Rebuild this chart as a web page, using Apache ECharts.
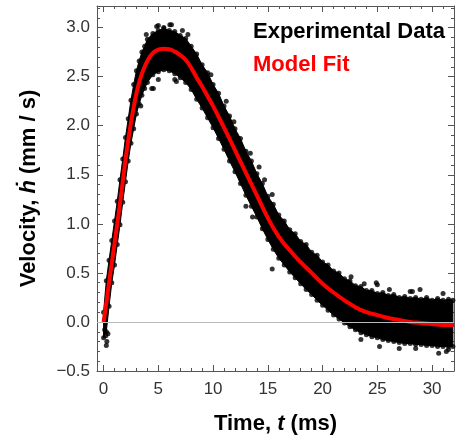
<!DOCTYPE html>
<html>
<head>
<meta charset="utf-8">
<script src="https://cdn.jsdelivr.net/npm/echarts@6/dist/echarts.min.js"></script>
<style>
  html, body { margin: 0; padding: 0; background: #fff; }
  #chart { width: 458px; height: 440px; }
</style>
</head>
<body>
<div id="chart"></div>
<script>
// model fit
const fitTime = [0, 0.25, 0.5, 0.75, 1, 1.25, 1.5, 1.75, 2, 2.25, 2.5, 2.75, 3, 3.25, 3.5, 3.75, 4, 4.5, 5, 5.5, 6, 6.5, 7, 7.5, 8, 8.5, 9, 9.5, 10, 11, 12, 13, 14, 15, 16, 17, 18, 19, 20, 21, 22, 23, 24, 25, 26, 27, 28, 29, 30, 31, 32];
const fitVel = [0, 0.19, 0.40, 0.60, 0.80, 1.00, 1.21, 1.43, 1.65, 1.85, 2.03, 2.19, 2.33, 2.44, 2.53, 2.60, 2.66, 2.74, 2.775, 2.785, 2.78, 2.755, 2.72, 2.67, 2.59, 2.49, 2.40, 2.30, 2.20, 1.98, 1.75, 1.52, 1.29, 1.06, 0.87, 0.73, 0.61, 0.50, 0.39, 0.30, 0.22, 0.15, 0.10, 0.07, 0.04, 0.02, 0.00, -0.01, -0.02, -0.03, -0.03];

// experimental data: dense band, upper and lower edge
const bandTime = [0, 0.25, 0.5, 0.75, 1, 1.25, 1.5, 1.75, 2, 2.25, 2.5, 2.75, 3, 3.25, 3.5, 3.75, 4, 4.5, 5, 5.5, 6, 6.5, 7, 7.5, 8, 8.5, 9, 9.5, 10, 10.5, 11, 11.5, 12, 12.5, 13, 13.5, 14, 14.5, 15, 15.5, 16, 16.5, 17, 17.5, 18, 18.5, 19, 19.5, 20, 20.5, 21, 21.5, 22, 22.5, 23, 23.5, 24, 24.5, 25, 25.5, 26, 26.5, 27, 27.5, 28, 28.5, 29, 29.5, 30, 30.5, 31, 31.5, 31.9];
const bandUpper = [0.10, 0.42, 0.63, 0.83, 1.03, 1.23, 1.45, 1.66, 1.88, 2.07, 2.26, 2.42, 2.56, 2.66, 2.75, 2.81, 2.88, 2.94, 2.97, 2.99, 2.97, 2.96, 2.92, 2.89, 2.81, 2.73, 2.62, 2.54, 2.42, 2.33, 2.20, 2.10, 1.97, 1.87, 1.74, 1.64, 1.51, 1.41, 1.28, 1.20, 1.09, 1.03, 0.94, 0.90, 0.82, 0.79, 0.71, 0.68, 0.61, 0.58, 0.52, 0.50, 0.44, 0.42, 0.37, 0.36, 0.32, 0.32, 0.29, 0.30, 0.27, 0.28, 0.25, 0.26, 0.24, 0.25, 0.23, 0.25, 0.22, 0.24, 0.22, 0.23, 0.22];
const bandLower = [-0.16, -0.10, 0.16, 0.40, 0.58, 0.79, 0.99, 1.22, 1.43, 1.64, 1.82, 1.97, 2.12, 2.22, 2.31, 2.38, 2.44, 2.52, 2.55, 2.57, 2.56, 2.53, 2.49, 2.44, 2.37, 2.27, 2.18, 2.08, 1.98, 1.87, 1.76, 1.64, 1.53, 1.41, 1.29, 1.18, 1.07, 0.95, 0.84, 0.74, 0.65, 0.58, 0.51, 0.45, 0.39, 0.33, 0.28, 0.22, 0.17, 0.12, 0.07, 0.03, -0.01, -0.05, -0.08, -0.11, -0.13, -0.15, -0.16, -0.18, -0.19, -0.20, -0.21, -0.22, -0.22, -0.23, -0.23, -0.24, -0.24, -0.25, -0.25, -0.25, -0.25];

// stray points outside the band
const strayTime = [0.1, 0.2, 0.3, 0.25, 0.4, 3.9, 4.54, 4.85, 5.0, 5.5, 6.05, 6.2, 7.2, 7.7, 3.4, 4.4, 4.55, 5.0, 6.5, 6.65, 9.8, 11.2, 11.9, 13.4, 14.2, 14.7, 15.4, 13.0, 13.6, 15.4, 22.6, 23.8, 25.0, 24.9, 26.1, 28.0, 28.2, 28.9, 31.0, 23.5, 25.2, 27.0, 28.5, 30.6, 31.3, 31.5];
const strayVel = [-0.08, -0.14, -0.20, -0.24, -0.12, 2.93, 2.91, 3.01, 3.02, 3.00, 3.03, 3.03, 2.97, 2.93, 2.20, 2.38, 2.38, 2.47, 2.47, 2.45, 2.52, 2.25, 2.04, 1.72, 1.58, 1.45, 1.30, 1.18, 1.07, 0.54, 0.46, 0.39, 0.38, 0.40, 0.33, 0.31, 0.31, 0.33, 0.29, -0.18, -0.25, -0.27, -0.27, -0.32, -0.30, -0.28];

// ticks
const xMajor = [0, 5, 10, 15, 20, 25, 30];
const xMinor = [0, 1, 2, 3, 4, 6, 7, 8, 9, 11, 12, 13, 14, 16, 17, 18, 19, 21, 22, 23, 24, 26, 27, 28, 29, 31];
const yMajor = [-0.5, 0, 0.5, 1, 1.5, 2, 2.5, 3];
const yMinor = [-0.4, -0.3, -0.2, -0.1, 0.1, 0.2, 0.3, 0.4, 0.6, 0.7, 0.8, 0.9, 1.1, 1.2, 1.3, 1.4, 1.6, 1.7, 1.8, 1.9, 2.1, 2.2, 2.3, 2.4, 2.6, 2.7, 2.8, 2.9, 3.1, 3.2];

const FONT = 'Liberation Sans, Arial, Helvetica, sans-serif';
const FRAME = '#555';

function pairs(xs, ys) {
    return xs.map((x, i) => [x, ys[i]]);
}

function renderBand(params, api) {
    if (params.dataIndex !== 0) return null;
    const points = [];
    for (let i = 0; i < bandTime.length; i++) {
        points.push(api.coord([bandTime[i], bandUpper[i]]));
    }
    for (let i = bandTime.length - 1; i >= 0; i--) {
        points.push(api.coord([bandTime[i], bandLower[i]]));
    }
    return {
        type: 'polygon',
        shape: { points: points },
        style: { fill: '#000', stroke: '#000', lineWidth: 1 }
    };
}

function xAxisOf(position, values, len, withLabels) {
    return {
        type: 'value',
        position: position,
        min: -0.6,
        max: 32,
        axisLine: { show: len > 4, onZero: false, lineStyle: { color: FRAME, width: 1 } },
        axisTick: { show: true, inside: true, length: len, customValues: values, lineStyle: { color: FRAME } },
        axisLabel: withLabels ? {
            customValues: values, fontSize: 17, color: '#333', fontFamily: FONT, margin: 10
        } : { show: false },
        splitLine: { show: false }
    };
}

function yAxisOf(position, values, len, withLabels) {
    return {
        type: 'value',
        position: position,
        min: -0.5,
        max: 3.22,
        axisLine: { show: len > 4, onZero: false, lineStyle: { color: FRAME, width: 1 } },
        axisTick: { show: true, inside: true, length: len, customValues: values, lineStyle: { color: FRAME } },
        axisLabel: withLabels ? {
            customValues: values, fontSize: 17, color: '#333', fontFamily: FONT, margin: 7,
            formatter: v => v.toFixed(1).replace('-', '\u2212')
        } : { show: false },
        splitLine: { show: false }
    };
}

const chart = echarts.init(document.getElementById('chart'), null, { renderer: 'canvas' });

const xAxes = [
    xAxisOf('bottom', xMajor, 6, true),
    xAxisOf('bottom', xMinor, 3, false),
    xAxisOf('top', xMajor, 6, false),
    xAxisOf('top', xMinor, 3, false)
];
Object.assign(xAxes[0], {
    name: 'Time, {it|t} (ms)',
    nameLocation: 'middle',
    nameGap: 42,
    nameTextStyle: {
        fontSize: 22, fontWeight: 'bold', color: '#000', fontFamily: FONT,
        rich: { it: { fontSize: 22, fontWeight: 'bold', fontStyle: 'italic', color: '#000', fontFamily: FONT } }
    }
});

const yAxes = [
    yAxisOf('left', yMajor, 6, true),
    yAxisOf('left', yMinor, 3, false),
    yAxisOf('right', yMajor, 6, false),
    yAxisOf('right', yMinor, 3, false)
];
Object.assign(yAxes[0], {
    name: 'Velocity, {it|\u1E23} (mm / s)',
    nameLocation: 'middle',
    nameGap: 57,
    nameTextStyle: {
        fontSize: 22, fontWeight: 'bold', color: '#000', fontFamily: FONT,
        rich: { it: { fontSize: 22, fontWeight: 'bold', fontStyle: 'italic', color: '#000', fontFamily: FONT } }
    }
});

chart.setOption({
    animation: false,
    backgroundColor: '#fff',
    grid: { left: 97, right: 4, top: 6, bottom: 68 },
    legend: {
        orient: 'vertical',
        left: 243,
        top: 16,
        itemGap: 11,
        itemWidth: 0,
        selectedMode: false,
        textStyle: { fontSize: 22, fontWeight: 'bold', fontFamily: FONT },
        data: [
            { name: 'Experimental Data', icon: 'none', textStyle: { color: '#000' } },
            { name: 'Model Fit', icon: 'none', textStyle: { color: '#ff0000' } }
        ]
    },
    xAxis: xAxes,
    yAxis: yAxes,
    series: [
        {
            name: 'zero',
            type: 'line',
            data: [],
            z: 1,
            markLine: {
                silent: true,
                symbol: 'none',
                label: { show: false },
                lineStyle: { color: '#bbb', width: 1, type: 'solid' },
                data: [{ yAxis: 0 }]
            }
        },
        {
            name: 'Experimental Data',
            type: 'custom',
            z: 2,
            renderItem: renderBand,
            encode: { x: 0, y: [1, 2] },
            data: bandTime.map((t, i) => [t, bandLower[i], bandUpper[i]])
        },
        {
            name: 'Experimental Data',
            type: 'scatter',
            z: 3,
            symbolSize: 5,
            itemStyle: { color: '#000' },
            data: pairs(bandTime, bandUpper).concat(pairs(bandTime, bandLower))
        },
        {
            name: 'Experimental Data',
            type: 'scatter',
            z: 3,
            symbolSize: 5,
            itemStyle: { color: '#000' },
            data: pairs(strayTime, strayVel)
        },
        {
            name: 'Model Fit',
            type: 'line',
            z: 4,
            smooth: true,
            showSymbol: false,
            lineStyle: { color: '#ff0000', width: 4 },
            itemStyle: { color: '#ff0000' },
            data: pairs(fitTime, fitVel)
        }
    ]
});

window.addEventListener('resize', () => chart.resize());
</script>
</body>
</html>
